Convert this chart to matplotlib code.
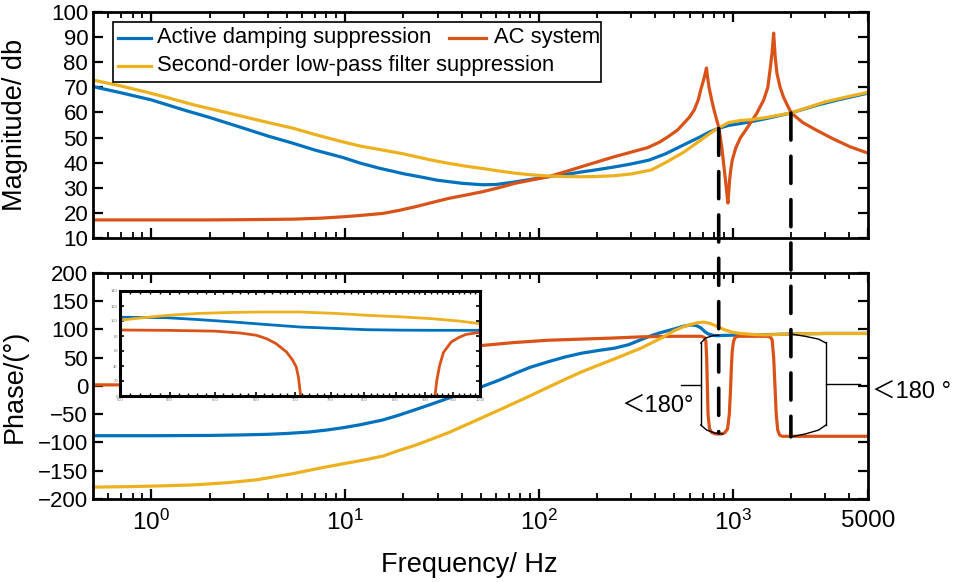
import numpy as np
import matplotlib
matplotlib.use("Agg")
import matplotlib.pyplot as plt
from matplotlib.patches import ConnectionPatch, Rectangle
from matplotlib.lines import Line2D

plt.rcParams['font.family'] = ['Liberation Sans', 'Noto Sans CJK SC', 'DejaVu Sans']
plt.rcParams['mathtext.fontset'] = 'custom'
plt.rcParams['mathtext.rm'] = 'Liberation Sans'
plt.rcParams['mathtext.it'] = 'Liberation Sans'

# ---------------- data ----------------
labels = ["Active damping suppression", "AC system",
          "Second-order low-pass filter suppression"]
c_blue, c_orange, c_yellow = "#0072BD", "#D95319", "#EDB120"

# magnitude (dB)
mag_blue_f = [0.5, 0.7, 1, 1.5, 2, 3, 4, 5.4, 7, 9.7, 12, 15, 17.6, 20, 25, 30, 40,
              51, 60, 75, 90, 112, 140, 166, 200, 246, 300, 370, 450, 540, 610, 685,
              760, 840, 950, 1100, 1240, 1500, 2000, 2700, 3500, 5000]
mag_blue = [70.3, 67.8, 65.0, 60.8, 58.0, 53.7, 50.6, 47.7, 45.0, 42.1, 39.8, 37.8,
            36.6, 35.6, 34.2, 33.0, 31.8, 31.2, 31.3, 32.3, 33.3, 34.4, 35.4, 36.3,
            37.2, 38.3, 39.5, 41.0, 43.5, 46.5, 48.5, 50.4, 52.2, 53.6, 54.8, 55.6,
            56.3, 57.6, 59.8, 62.8, 65.0, 67.7]

mag_yellow_f = [0.5, 0.7, 0.92, 1.2, 1.66, 2.2, 3, 4, 5.4, 7, 9.7, 12, 15.7, 20, 23.2,
                28, 34.4, 42, 51, 62, 75.5, 90, 112, 135, 166, 200, 246, 300, 381, 450,
                500, 560, 620, 685, 760, 840, 955, 1100, 1240, 1500, 2000, 3000, 4000,
                5000]
mag_yellow = [72.9, 70.5, 68.3, 66.0, 63.0, 60.8, 58.3, 56.0, 53.7, 51.2, 48.3, 46.6,
              45.0, 43.5, 42.4, 41.0, 39.7, 38.6, 37.7, 36.7, 35.8, 35.2, 34.7, 34.5,
              34.4, 34.5, 34.8, 35.5, 37.1, 40.0, 42.0, 44.2, 46.6, 49.0, 51.5, 53.7,
              56.0, 56.8, 57.1, 58.0, 59.8, 64.2, 66.4, 68.0]

mag_orange_f = [0.5, 1, 2, 3, 5.4, 7.5, 10, 12.5, 15.7, 19, 23.2, 28, 34.4, 42, 51, 62,
                75.5, 92, 112, 137, 166, 200, 246, 300, 365, 420, 462, 520, 562, 600,
                634, 665, 685, 700, 713, 725, 733, 740, 756, 780, 802, 825, 851, 880,
                903, 925, 946, 955, 965, 980, 996, 1040, 1099, 1170, 1236, 1330, 1448,
                1520, 1567, 1600, 1629, 1660, 1694, 1760, 1834, 1920, 2009, 2300, 2700,
                3300, 4050, 5000]
mag_orange = [17.2, 17.2, 17.2, 17.3, 17.5, 17.9, 18.5, 19.1, 19.8, 21.0, 22.5, 24.1,
              25.8, 27.1, 28.4, 30.0, 31.8, 33.1, 34.4, 36.4, 38.4, 40.3, 42.4, 44.2,
              46.0, 48.2, 50.2, 53.0, 55.8, 58.2, 61.0, 65.0, 69.0, 71.5, 73.7, 76.0,
              77.7, 75.0, 70.0, 65.0, 61.0, 57.5, 53.7, 46.0, 38.3, 31.0, 23.9, 28.0,
              33.0, 37.5, 41.0, 46.0, 50.0, 53.0, 55.8, 59.5, 65.0, 70.0, 78.0, 84.0,
              91.6, 82.0, 75.6, 70.0, 66.0, 62.8, 59.8, 56.0, 53.0, 49.5, 46.3, 43.8]

# phase (deg)
ph_blue_f = [0.5, 1, 2, 3, 4, 5, 6.5, 8, 9.7, 12, 15.7, 19, 23, 28, 34.5, 42, 51, 62,
             75, 90, 112, 137, 166, 200, 246, 290, 337, 366, 420, 500, 560, 610, 650,
             685, 720, 750, 800, 840, 900, 1000, 1500, 2000, 3000, 5000]
ph_blue = [-88, -88, -87.5, -86.5, -85.5, -84, -81.5, -78, -74, -68.5, -60, -51.5,
           -42, -32, -21, -11, -1, 10, 22, 33, 43, 51.5, 58, 62.5, 67, 73, 82, 87, 94,
           101, 106, 108, 107, 103, 96, 92, 89.5, 89, 89.5, 90, 91, 92, 93, 93]

ph_yellow_f = [0.5, 0.8, 1.2, 1.66, 2.5, 3.5, 5.4, 7.5, 10, 12.5, 15.7, 19, 23, 28,
               34.5, 42, 51, 62, 75, 92, 112, 137, 166, 200, 246, 290, 337, 380, 430,
               500, 560, 610, 660, 710, 760, 800, 850, 900, 1000, 1100, 1300, 1500,
               2000, 3000, 5000]
ph_yellow = [-179, -178, -176.5, -175, -171, -166, -155, -145, -137, -131, -124, -114,
             -105, -94, -82, -69, -56, -43, -30, -16, -2, 12, 25, 36, 48, 58, 67, 76,
             85, 98, 105, 109, 112, 113, 111, 108, 104, 100, 95, 93, 91, 90.5, 92, 93,
             93]

ph_orange_f = [0.5, 0.7, 1, 3, 10, 30, 52, 75, 112, 166, 246, 337, 500, 690, 715, 728,
               735, 741, 747, 760, 778, 820, 870, 910, 942, 962, 975, 985, 995, 1010,
               1030, 1070, 1500, 1560, 1600, 1630, 1655, 1680, 1710, 1750, 1800, 5000]
ph_orange = [2, 2, 3, 10, 40, 65, 72, 77, 81, 83, 85, 87, 88, 88, 86, 80, 50, 0, -50,
             -75, -82, -85, -85, -83, -76, -50, -10, 30, 60, 78, 86, 88, 88, 87, 82,
             50, 0, -50, -78, -87, -89, -89]

# inset (zoom of the phase, 500-1000 Hz)
inset_f = [500, 520, 547, 580, 622, 660, 707, 760, 804, 860, 913, 960, 1000]
inset_blue = [105, 104.8, 104.4, 102, 98.7, 95.5, 92, 90, 88.4, 87.8, 87.6, 87.6, 87.6]
inset_yellow = [101, 104, 107.5, 110, 111.5, 112, 112, 110, 107.6, 105.5, 103, 100,
                96.4]
inset_orange_f = [500, 550, 600, 630, 650, 663, 675, 689, 697, 702, 705, 708, 712,
                  905, 913, 917, 920, 925, 932, 946, 960, 973, 1000]
inset_orange = [88, 87.5, 86.5, 84, 81, 76.4, 70, 58.7, 48, 38.7, 25, 0, -40, -40,
                -10, 0, 20, 40, 58, 72, 78, 82, 85]
inset_xticks = [500, 550, 600, 650, 700, 750, 800, 850, 900, 950, 1000]
inset_yticks = [0, 20, 40, 60, 80, 100, 120, 140]

mag_yticks = list(range(10, 101, 10))
ph_yticks = list(range(-200, 201, 50))
x_ticks = [1, 10, 100, 1000, 5000]
x_ticklabels = [r"$10^{0}$", r"$10^{1}$", r"$10^{2}$", r"$10^{3}$", "5000"]

# ---------------- figure ----------------
W, H = 955, 582
fig = plt.figure(figsize=(W / 100, H / 100), dpi=100)
L, R = 93, 868
ax1 = fig.add_axes([L / W, 1 - 238 / H, (R - L) / W, 226 / H])
ax2 = fig.add_axes([L / W, 1 - 499 / H, (R - L) / W, 226 / H])

minor_x = [0.6, 0.7, 0.8, 0.9] + [k * 10 ** d for d in range(0, 3) for k in range(2, 10)] \
          + [2000, 3000, 4000]

for ax in (ax1, ax2):
    ax.set_xscale('log')
    ax.set_xlim(0.5, 5000)
    ax.set_xticks(x_ticks)
    ax.set_xticks(minor_x, minor=True)
    ax.tick_params(which='both', direction='in', top=True, right=True)
    ax.tick_params(which='major', length=7, width=1.6, labelsize=16)
    ax.tick_params(which='minor', length=4, width=1.3)
    for s in ax.spines.values():
        s.set_linewidth(2.0)

lw = 2.3
ax1.plot(mag_blue_f, mag_blue, color=c_blue, lw=lw)
ax1.plot(mag_orange_f, mag_orange, color=c_orange, lw=lw)
ax1.plot(mag_yellow_f, mag_yellow, color=c_yellow, lw=lw)
ax1.set_ylim(10, 100)
ax1.set_yticks(mag_yticks)
ax1.set_xticklabels([])
ax1.set_ylabel("Magnitude/ db", fontsize=19.5)
ax1.yaxis.set_label_coords(-0.084, 0.5)

ax2.plot(ph_blue_f, ph_blue, color=c_blue, lw=lw)
ax2.plot(ph_orange_f, ph_orange, color=c_orange, lw=lw)
ax2.plot(ph_yellow_f, ph_yellow, color=c_yellow, lw=lw)
ax2.set_ylim(-200, 200)
ax2.set_yticks(ph_yticks)
ax2.set_xticklabels(x_ticklabels)
ax2.tick_params(axis='x', which='major', pad=8, labelsize=17.5)
ax2.set_ylabel("Phase/(°)", fontsize=19.5)
ax2.yaxis.set_label_coords(-0.084, 0.5)
ax2.set_xlabel("Frequency/ Hz", fontsize=19.5)
ax2.xaxis.set_label_coords(0.486, -0.235)

# ---------------- legend (manual, MATLAB-like 2 columns) ----------------
def axf(px, py):
    return ((px - L) / (R - L), (238 - py) / 226)

x0, y0 = axf(113, 82)
x1, y1 = axf(601, 22)
ax1.add_patch(Rectangle((x0, y0), x1 - x0, y1 - y0, transform=ax1.transAxes,
                        facecolor='white', edgecolor='black', lw=1.2, zorder=5))
entries = [(118, 151, 157, 38, c_blue, labels[0]),
           (449, 486, 494, 38, c_orange, labels[1]),
           (118, 151, 157, 66, c_yellow, labels[2])]
for lx0, lx1, tx, ty, col, lab in entries:
    a, b = axf(lx0, ty)
    c, _ = axf(lx1, ty)
    ax1.add_line(Line2D([a, c], [b, b], transform=ax1.transAxes, color=col, lw=2.3,
                        zorder=6))
    t, _ = axf(tx, ty)
    ax1.text(t, b, lab, transform=ax1.transAxes, fontsize=15.8, va='center',
             ha='left', zorder=6)

# ---------------- dashed connector lines ----------------
for f, m, p in [(848, 53.7, -83), (2000, 59.8, -90)]:
    con = ConnectionPatch(xyA=(f, m), coordsA=ax1.transData, xyB=(f, p),
                          coordsB=ax2.transData, color='black', lw=2.6,
                          linestyle=(0, (7.5, 4.5)), arrowstyle='-', zorder=10)
    fig.add_artist(con)

# ---------------- "<180°" brackets ----------------
bk = dict(color='black', lw=1.0, clip_on=False, zorder=4)
ax2.plot([685, 685], [76, -69], **bk)
ax2.plot([685, 727, 790, 848], [76, 85, 89, 90], **bk)
ax2.plot([685, 735, 806, 889], [-69, -78, -83, -85], **bk)
ax2.plot([541, 685], [2, 2], **bk)
ax2.text(632, -35, "＜180°", fontsize=17, ha='right', va='center')

ax2.plot([3034, 3034], [78, -69], **bk)
ax2.plot([2000, 2366, 2780, 3034], [92, 88, 83, 76], **bk)
ax2.plot([2000, 2366, 2780, 3034], [-90, -85, -78, -69], **bk)
ax2.plot([3034, 4550], [4, 4], **bk)
ax2.text(5250, -10, "＜180 °", fontsize=17, ha='left', va='center', clip_on=False)

# ---------------- inset ----------------
ax3 = fig.add_axes([120 / W, 1 - 396 / H, 360 / W, 105 / H])
ax3.set_xscale('log')
ax3.plot(inset_f, inset_blue, color=c_blue, lw=2.0)
ax3.plot(inset_orange_f, inset_orange, color=c_orange, lw=2.0)
ax3.plot(inset_f, inset_yellow, color=c_yellow, lw=2.0)
ax3.set_xlim(500, 1000)
ax3.set_ylim(0, 140)
ax3.set_xticks(inset_xticks)
ax3.set_xticklabels([str(v) for v in inset_xticks])
ax3.set_xticks(list(range(510, 1000, 10)), minor=True)
ax3.xaxis.set_minor_formatter(matplotlib.ticker.NullFormatter())
ax3.set_yticks(inset_yticks)
ax3.tick_params(which='both', direction='in', top=True, right=True,
                labelsize=3, colors='black', labelcolor='#777777', pad=1.5)
ax3.tick_params(which='major', length=3, width=1.2)
ax3.tick_params(which='minor', length=2, width=1.0)
for s in ax3.spines.values():
    s.set_linewidth(2.2)

fig.savefig("out.png", dpi=100)
